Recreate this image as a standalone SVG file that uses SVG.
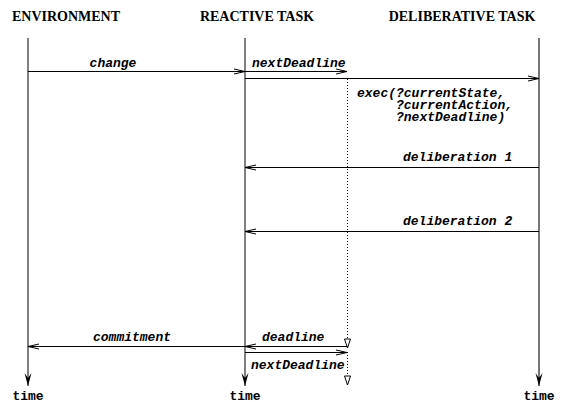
<svg xmlns="http://www.w3.org/2000/svg" width="566" height="405" viewBox="0 0 566 405">
<style>
.hdr{font-family:"Liberation Serif","Times New Roman",serif;font-weight:bold;font-size:14px;fill:#000}
.lbl{font-family:"Liberation Mono","Courier New",monospace;font-weight:bold;font-style:italic;font-size:13px;fill:#000}
.time{font-family:"Liberation Mono","Courier New",monospace;font-weight:bold;font-size:13px;fill:#000}
.life{stroke:#000;stroke-width:1;fill:none}
.msg{stroke:#000;stroke-width:1;fill:none}
.dot{stroke:#000;stroke-width:1;stroke-dasharray:1,2;fill:none}
</style>
<defs>
<marker id="open" markerWidth="12" markerHeight="8" refX="11" refY="4" orient="auto" markerUnits="userSpaceOnUse">
<path d="M0,1.5 L11,4 L0,6.5" fill="none" stroke="#000" stroke-width="1"/>
</marker>
<marker id="filled" markerWidth="8" markerHeight="14" refX="4" refY="13" orient="0" markerUnits="userSpaceOnUse">
<path d="M0.5,0 L4,13 L7.5,0 L4,5 Z" fill="#000"/>
</marker>
</defs>
<g id="environment">
<text class="hdr" x="66" y="21" text-anchor="middle">ENVIRONMENT</text>
<line class="life" x1="28" y1="38" x2="28" y2="386" marker-end="url(#filled)"/>
<text class="time" x="28" y="400" text-anchor="middle">time</text>
</g>
<g id="reactive-task">
<text class="hdr" x="257" y="21" text-anchor="middle">REACTIVE TASK</text>
<line class="life" x1="245" y1="38" x2="245" y2="386" marker-end="url(#filled)"/>
<text class="time" x="245" y="400" text-anchor="middle">time</text>
</g>
<g id="deliberative-task">
<text class="hdr" x="462" y="21" text-anchor="middle">DELIBERATIVE TASK</text>
<line x1="539" y1="38" x2="539" y2="386" stroke="#555" stroke-width="1.6" marker-end="url(#filled)"/>
<text class="time" x="539" y="400" text-anchor="middle">time</text>
</g>
<g id="deadline-timer">
<line class="dot" x1="347.5" y1="79" x2="347.5" y2="340"/>
<line class="dot" x1="347.5" y1="352" x2="347.5" y2="378"/>
<path d="M344.5,339 L347.5,348 L350.5,339 Z" fill="#fff" stroke="#000" stroke-width="1"/>
<path d="M344.5,376 L347.5,385 L350.5,376 Z" fill="#fff" stroke="#000" stroke-width="1"/>
</g>
<g id="connectors">
<line class="msg" x1="28" y1="71.5" x2="245" y2="71.5" marker-end="url(#open)"/>
<text class="lbl" x="113" y="67" text-anchor="middle">change</text>
<line class="msg" x1="245" y1="71.5" x2="347" y2="71.5" marker-end="url(#open)"/>
<text class="lbl" x="252" y="67">nextDeadline</text>
<line class="msg" x1="245" y1="78.5" x2="539" y2="78.5" marker-end="url(#open)"/>
<text class="lbl" x="357" y="97">exec(?currentState,</text>
<text class="lbl" x="396" y="109">?currentAction,</text>
<text class="lbl" x="396" y="121">?nextDeadline)</text>
<line class="msg" x1="539" y1="167.5" x2="245" y2="167.5" marker-end="url(#open)"/>
<text class="lbl" x="403" y="161">deliberation 1</text>
<line class="msg" x1="539" y1="231.5" x2="245" y2="231.5" marker-end="url(#open)"/>
<text class="lbl" x="403" y="225">deliberation 2</text>
<line class="msg" x1="245" y1="346.5" x2="28" y2="346.5" marker-end="url(#open)"/>
<text class="lbl" x="93" y="341">commitment</text>
<line class="msg" x1="347.5" y1="346.5" x2="245" y2="346.5" marker-end="url(#open)"/>
<text class="lbl" x="262" y="341">deadline</text>
<line class="msg" x1="245" y1="352.5" x2="347" y2="352.5" marker-end="url(#open)"/>
<text class="lbl" x="251" y="369">nextDeadline</text>
</g>
</svg>
